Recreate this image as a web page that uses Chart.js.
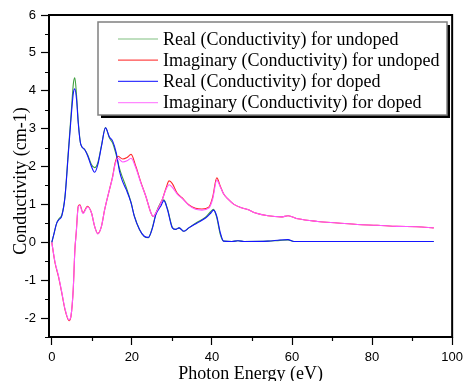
<!DOCTYPE html>
<html>
<head>
<meta charset="utf-8">
<script src="https://cdn.jsdelivr.net/npm/chart.js@4.4.1/dist/chart.umd.min.js"></script>
<style>
  html, body { margin: 0; padding: 0; background: #fff; }
  #wrap { width: 468px; height: 381px; }
</style>
</head>
<body>
<div id="wrap"><canvas id="condChart" width="468" height="381"></canvas></div>
<script>
// photon energy (eV) for the real part curves
const realEnergy = [0, 0.6, 1.2, 1.8, 2.5, 3.3, 4.1, 4.9, 5.4, 5.75, 6.2, 6.6, 7.2, 8.2, 9.0, 9.9,
  10.7, 11.5, 12.4, 13.4, 14.4, 15.2, 16.1, 16.9, 17.7, 18.6, 19.8, 20.6, 21.9, 23.1, 24.1,
  25.1, 26.0, 27.2, 28.0, 28.9, 30.1, 30.9, 31.8, 33.0, 34.2, 36.3, 38.4, 39.6, 40.4, 41.2,
  42.1, 42.9, 45, 46.5, 48, 54, 57, 59, 60.5, 70, 95.4];
const realUndoped = [0, 0.25, 0.5, 0.62, 0.72, 1.22, 2.36, 3.5, 4.2, 4.34, 3.85, 3.2, 2.6, 2.45, 2.3, 2.05,
  1.97, 2.1, 2.55, 3.03, 2.75, 2.62, 2.3, 1.95, 1.7, 1.45, 1.05, 0.7, 0.34, 0.15, 0.12,
  0.38, 0.75, 1.05, 1.12, 0.88, 0.4, 0.34, 0.38, 0.29, 0.38, 0.53, 0.66, 0.8, 0.87, 0.65,
  0.2, 0.03, 0.02, 0.04, 0.02, 0.03, 0.05, 0.06, 0.02, 0.02, 0.02];
const realDoped = [0, 0.25, 0.5, 0.6, 0.7, 1.2, 2.3, 3.4, 3.95, 4.05, 3.75, 3.15, 2.6, 2.45, 2.27, 2.0,
  1.85, 2.05, 2.53, 3.02, 2.78, 2.67, 2.36, 1.88, 1.6, 1.39, 1.04, 0.69, 0.34, 0.16, 0.13,
  0.36, 0.73, 0.95, 1.1, 0.86, 0.38, 0.34, 0.38, 0.29, 0.38, 0.51, 0.64, 0.76, 0.85, 0.69,
  0.25, 0.03, 0.02, 0.04, 0.02, 0.03, 0.06, 0.07, 0.02, 0.02, 0.02];

// photon energy (eV) for the imaginary part curves
const imagEnergy = [0, 0.8, 1.65, 2.5, 3.3, 4.3, 4.8, 5.35, 5.77, 6.1, 6.6, 7.0, 7.8, 8.9, 9.9, 10.7,
  11.5, 12.4, 13.2, 14.4, 15.2, 15.8, 16.5, 17.7, 18.8, 19.8, 21.0, 22.3, 23.5, 24.75, 25.3,
  26.4, 27.6, 28.5, 29.3, 30.1, 31.3, 32.6, 34.2, 35.9, 37.5, 39.2, 40.2, 41.2, 42.1, 42.9,
  44.1, 45.5, 47.4, 49.1, 50.7, 54, 57.3, 59, 61.5, 66.4, 71.4, 76.3, 81.3, 86.2, 91.2, 95.4];
const imagUndoped = [0, -0.54, -0.9, -1.34, -1.78, -2.07, -1.95, -1.25, -0.19, 0.25, 0.95, 0.99, 0.78, 0.95, 0.78, 0.42,
  0.23, 0.42, 0.86, 1.39, 1.74, 2.09, 2.27, 2.2, 2.24, 2.32, 2.0, 1.57, 1.21, 0.78, 0.68,
  0.86, 1.13, 1.42, 1.62, 1.55, 1.3, 1.17, 0.99, 0.9, 0.88, 0.93, 1.2, 1.7, 1.48, 1.28,
  1.13, 1.0, 0.91, 0.86, 0.78, 0.7, 0.67, 0.7, 0.62, 0.55, 0.51, 0.47, 0.45, 0.42, 0.41, 0.38];
const imagDoped = [0, -0.52, -0.88, -1.32, -1.76, -2.05, -1.93, -1.25, -0.2, 0.25, 0.93, 0.97, 0.76, 0.93, 0.78, 0.42,
  0.22, 0.42, 0.86, 1.39, 1.72, 2.05, 2.22, 2.12, 2.15, 2.22, 1.96, 1.55, 1.21, 0.78, 0.68,
  0.86, 1.13, 1.39, 1.52, 1.45, 1.28, 1.15, 0.98, 0.87, 0.85, 0.9, 1.15, 1.64, 1.46, 1.28,
  1.13, 1.0, 0.91, 0.86, 0.78, 0.7, 0.67, 0.7, 0.62, 0.55, 0.51, 0.47, 0.45, 0.42, 0.41, 0.38];

const xTicks = [0, 20, 40, 60, 80, 100];
const yTicks = [-2, -1, 0, 1, 2, 3, 4, 5, 6];

const seriesNames = [
  'Real (Conductivity) for undoped',
  'Imaginary (Conductivity) for undoped',
  'Real (Conductivity) for doped',
  'Imaginary (Conductivity) for doped'
];
const seriesColors = ['#3f9f3f', '#ff2a2a', '#1414ff', '#ff55ff'];
const legendColors = ['#80c080', '#ff4a4a', '#3a3aff', '#ff88ff'];

function toPoints(xs, ys) {
  return xs.map((x, i) => ({ x: x, y: ys[i] }));
}

const seriesData = [
  toPoints(realEnergy, realUndoped),
  toPoints(imagEnergy, imagUndoped),
  toPoints(realEnergy, realDoped),
  toPoints(imagEnergy, imagDoped)
];

const SERIF = '"Liberation Serif", "Times New Roman", serif';
const SANS = '"Liberation Sans", Arial, sans-serif';

// frame, minor ticks, axis titles and the boxed legend
const decorations = {
  id: 'decorations',
  afterDraw(chart) {
    const ctx = chart.ctx;
    const a = chart.chartArea;
    const xs = chart.scales.x, ys = chart.scales.y;
    ctx.save();

    // minor ticks
    ctx.strokeStyle = '#000';
    ctx.lineWidth = 1.2;
    ctx.beginPath();
    for (let v = 10; v < 100; v += 20) {
      const px = Math.round(xs.getPixelForValue(v)) + 0.5;
      ctx.moveTo(px, a.bottom);
      ctx.lineTo(px, a.bottom + 4);
    }
    for (let v = -2.5; v < 6; v += 1) {
      const py = Math.round(ys.getPixelForValue(v)) + 0.5;
      ctx.moveTo(a.left, py);
      ctx.lineTo(a.left - 4, py);
    }
    ctx.stroke();

    // box round the plot
    ctx.lineWidth = 2;
    ctx.strokeRect(a.left, a.top, a.right - a.left, a.bottom - a.top);

    // axis titles
    ctx.fillStyle = '#000';
    ctx.font = '18px ' + SERIF;
    ctx.textAlign = 'center';
    ctx.textBaseline = 'alphabetic';
    ctx.fillText('Photon Energy (eV)', (a.left + a.right) / 2, 379);
    ctx.save();
    ctx.translate(26, (a.top + a.bottom) / 2 + 5);
    ctx.rotate(-Math.PI / 2);
    ctx.fillText('Conductivity (cm-1)', 0, 0);
    ctx.restore();

    // legend
    const bx = 98, by = 22, bw = 349, bh = 93;
    ctx.fillStyle = '#000';
    ctx.fillRect(bx + 3, by + 3, bw, bh);
    ctx.fillStyle = '#fff';
    ctx.fillRect(bx, by, bw, bh);
    ctx.strokeStyle = '#808080';
    ctx.lineWidth = 1.5;
    ctx.strokeRect(bx, by, bw, bh);

    ctx.font = '18px ' + SERIF;
    ctx.textAlign = 'left';
    ctx.textBaseline = 'middle';
    chart.data.datasets.forEach((ds, i) => {
      const ry = 39 + i * 21.2;
      ctx.strokeStyle = legendColors[i];
      ctx.lineWidth = 1.2;
      ctx.beginPath();
      ctx.moveTo(118, ry);
      ctx.lineTo(158, ry);
      ctx.stroke();
      ctx.fillStyle = '#000';
      ctx.fillText(ds.label, 163, ry + 1);
    });
    ctx.restore();
  }
};

new Chart(document.getElementById('condChart').getContext('2d'), {
  type: 'line',
  data: {
    datasets: seriesData.map((pts, i) => ({
      label: seriesNames[i],
      data: pts,
      borderColor: seriesColors[i],
      borderWidth: 1.1,
      pointRadius: 0,
      fill: false,
      // later series sit on top of earlier ones
      order: seriesData.length - i,
      cubicInterpolationMode: 'monotone'
    }))
  },
  options: {
    responsive: false,
    animation: false,
    layout: { padding: { left: 0, top: 15, right: 13, bottom: 0 } },
    plugins: { legend: { display: false }, tooltip: { enabled: false } },
    scales: {
      x: {
        type: 'linear',
        min: -0.7,
        max: 100,
        afterBuildTicks: s => { s.ticks = xTicks.map(v => ({ value: v })); },
        afterFit: s => { s.height = 44; },
        border: { display: false },
        grid: { drawOnChartArea: false, tickLength: 8, tickColor: '#000', tickWidth: 1.2 },
        ticks: { color: '#000', font: { family: SANS, size: 13 }, padding: 5, maxRotation: 0 }
      },
      y: {
        min: -2.5,
        max: 6,
        afterBuildTicks: s => { s.ticks = yTicks.map(v => ({ value: v })); },
        afterFit: s => { s.width = 49; },
        border: { display: false },
        grid: { drawOnChartArea: false, tickLength: 8, tickColor: '#000', tickWidth: 1.2 },
        ticks: { color: '#000', font: { family: SANS, size: 13 }, padding: 5 }
      }
    }
  },
  plugins: [decorations]
});
</script>
</body>
</html>
